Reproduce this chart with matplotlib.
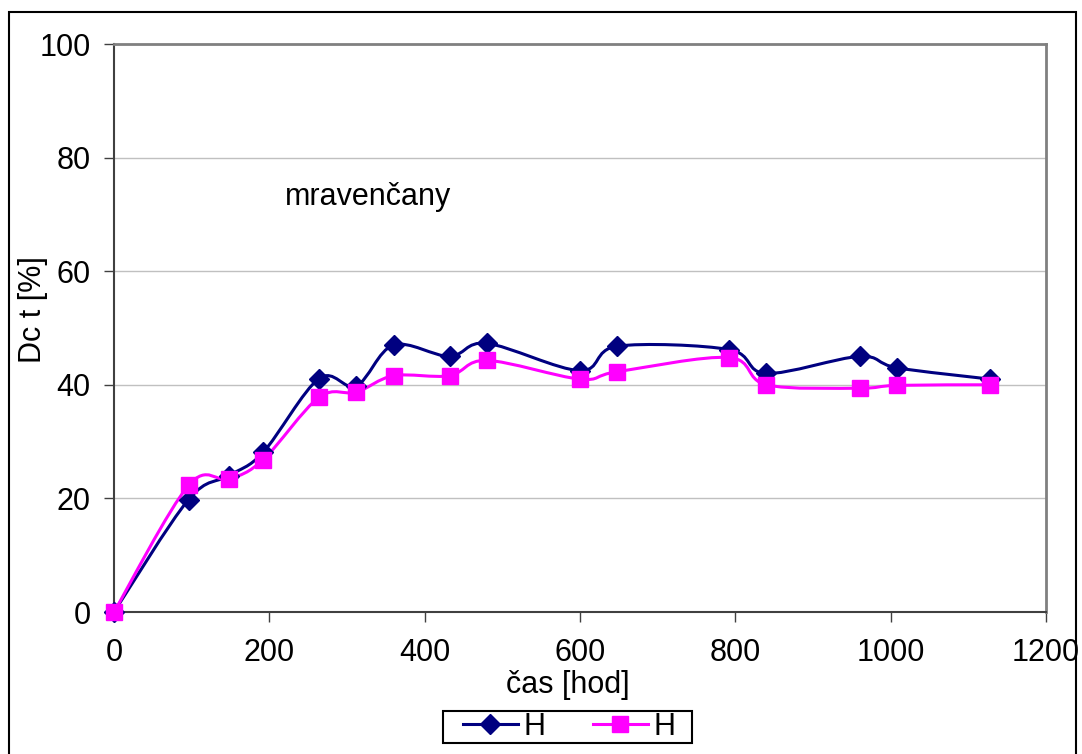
import matplotlib
matplotlib.use('Agg')
import matplotlib.pyplot as plt
from matplotlib.path import Path
from matplotlib.patches import PathPatch, Rectangle
from matplotlib.lines import Line2D

# data
cas = [0, 96, 148, 192, 264, 312, 360, 432, 480, 600, 648, 792, 840, 960, 1008, 1128]
h_modra = [0, 19.8, 24.0, 28.1, 41.1, 39.8, 47.0, 45.0, 47.3, 42.5, 46.8, 46.2, 42.0, 45.0, 43.0, 41.0]
h_ruzova = [0, 22.3, 23.4, 26.8, 37.8, 38.7, 41.6, 41.6, 44.3, 41.0, 42.3, 44.8, 40.0, 39.4, 39.9, 40.0]
yticks = [0, 20, 40, 60, 80, 100]
xticks = [0, 200, 400, 600, 800, 1000, 1200]

modra = '#000080'
ruzova = '#FF00FF'

plt.rcParams['font.family'] = ['Liberation Sans', 'DejaVu Sans']


def hladka_cesta(x, y):
    # bezier krivka pres body (jako vyhlazena cara v Excelu)
    n = len(x)
    verts = [(x[0], y[0])]
    codes = [Path.MOVETO]
    for i in range(n - 1):
        x0, y0 = (x[i - 1], y[i - 1]) if i > 0 else (x[i], y[i])
        x3, y3 = (x[i + 2], y[i + 2]) if i + 2 < n else (x[i + 1], y[i + 1])
        c1 = (x[i] + (x[i + 1] - x0) / 6, y[i] + (y[i + 1] - y0) / 6)
        c2 = (x[i + 1] - (x3 - x[i]) / 6, y[i + 1] - (y3 - y[i]) / 6)
        verts += [c1, c2, (x[i + 1], y[i + 1])]
        codes += [Path.CURVE4, Path.CURVE4, Path.CURVE4]
    return Path(verts, codes)


W, H = 1082, 754
fig = plt.figure(figsize=(W / 100, H / 100), dpi=100)
ax = fig.add_axes([114 / W, 1 - 612 / H, (1046 - 114) / W, (612 - 44) / H])

ax.add_patch(PathPatch(hladka_cesta(cas, h_modra), facecolor='none', edgecolor=modra, lw=2.2, zorder=3, clip_on=False))
ax.add_patch(PathPatch(hladka_cesta(cas, h_ruzova), facecolor='none', edgecolor=ruzova, lw=2.2, zorder=3, clip_on=False))
ax.plot(cas, h_modra, linestyle='none', marker='D', color=modra, markersize=10.5, zorder=4, clip_on=False)
ax.plot(cas, h_ruzova, linestyle='none', marker='s', color=ruzova, markersize=12, zorder=5, clip_on=False)

ax.set_xlim(0, 1200)
ax.set_ylim(0, 100)
ax.set_xticks(xticks)
ax.set_yticks(yticks)
ax.tick_params(labelsize=22, direction='out', length=7, width=1, color='#404040')
ax.tick_params(axis='y', pad=10)
ax.tick_params(axis='x', pad=12)
ax.yaxis.grid(True, color='#C0C0C0', lw=1)
ax.set_axisbelow(True)
for s in ['top', 'right']:
    ax.spines[s].set_color('#808080')
    ax.spines[s].set_linewidth(2)
for s in ['left', 'bottom']:
    ax.spines[s].set_color('#404040')
    ax.spines[s].set_linewidth(1.5)

ax.set_xlabel('čas [hod]', fontsize=22)
ax.set_ylabel('Dc t [%]', fontsize=22)
ax.xaxis.set_label_coords((568 - 114) / 932, -0.102)
ax.yaxis.set_label_coords((48 - 114) / 932, 0.532)
ax.text(220, 73, 'mravenčany', fontsize=22, va='center')

handles = [Line2D([], [], color=modra, lw=2.2, marker='D', markersize=10.5),
           Line2D([], [], color=ruzova, lw=2.2, marker='s', markersize=12)]
leg = fig.legend(handles, ['H', 'H'], loc='center', bbox_to_anchor=(569 / W, 1 - 727 / H),
                 ncol=2, fontsize=22, frameon=False,
                 handlelength=1.8, columnspacing=1.57, handletextpad=0.17,
                 borderpad=0, borderaxespad=0)
# ramecek legendy
fig.add_artist(Rectangle((443 / W, 1 - 743 / H), (692 - 443) / W, 32 / H,
                         transform=fig.transFigure, fill=False, edgecolor='black', lw=1.5))

# ramecek kolem celeho obrazku
fig.add_artist(Rectangle((8.5 / W, -0.05), (1076 - 8.5) / W, 1.05 - 11.5 / H,
                         transform=fig.transFigure, fill=False, edgecolor='black', lw=1.5))

fig.savefig('out.png', dpi=100)
